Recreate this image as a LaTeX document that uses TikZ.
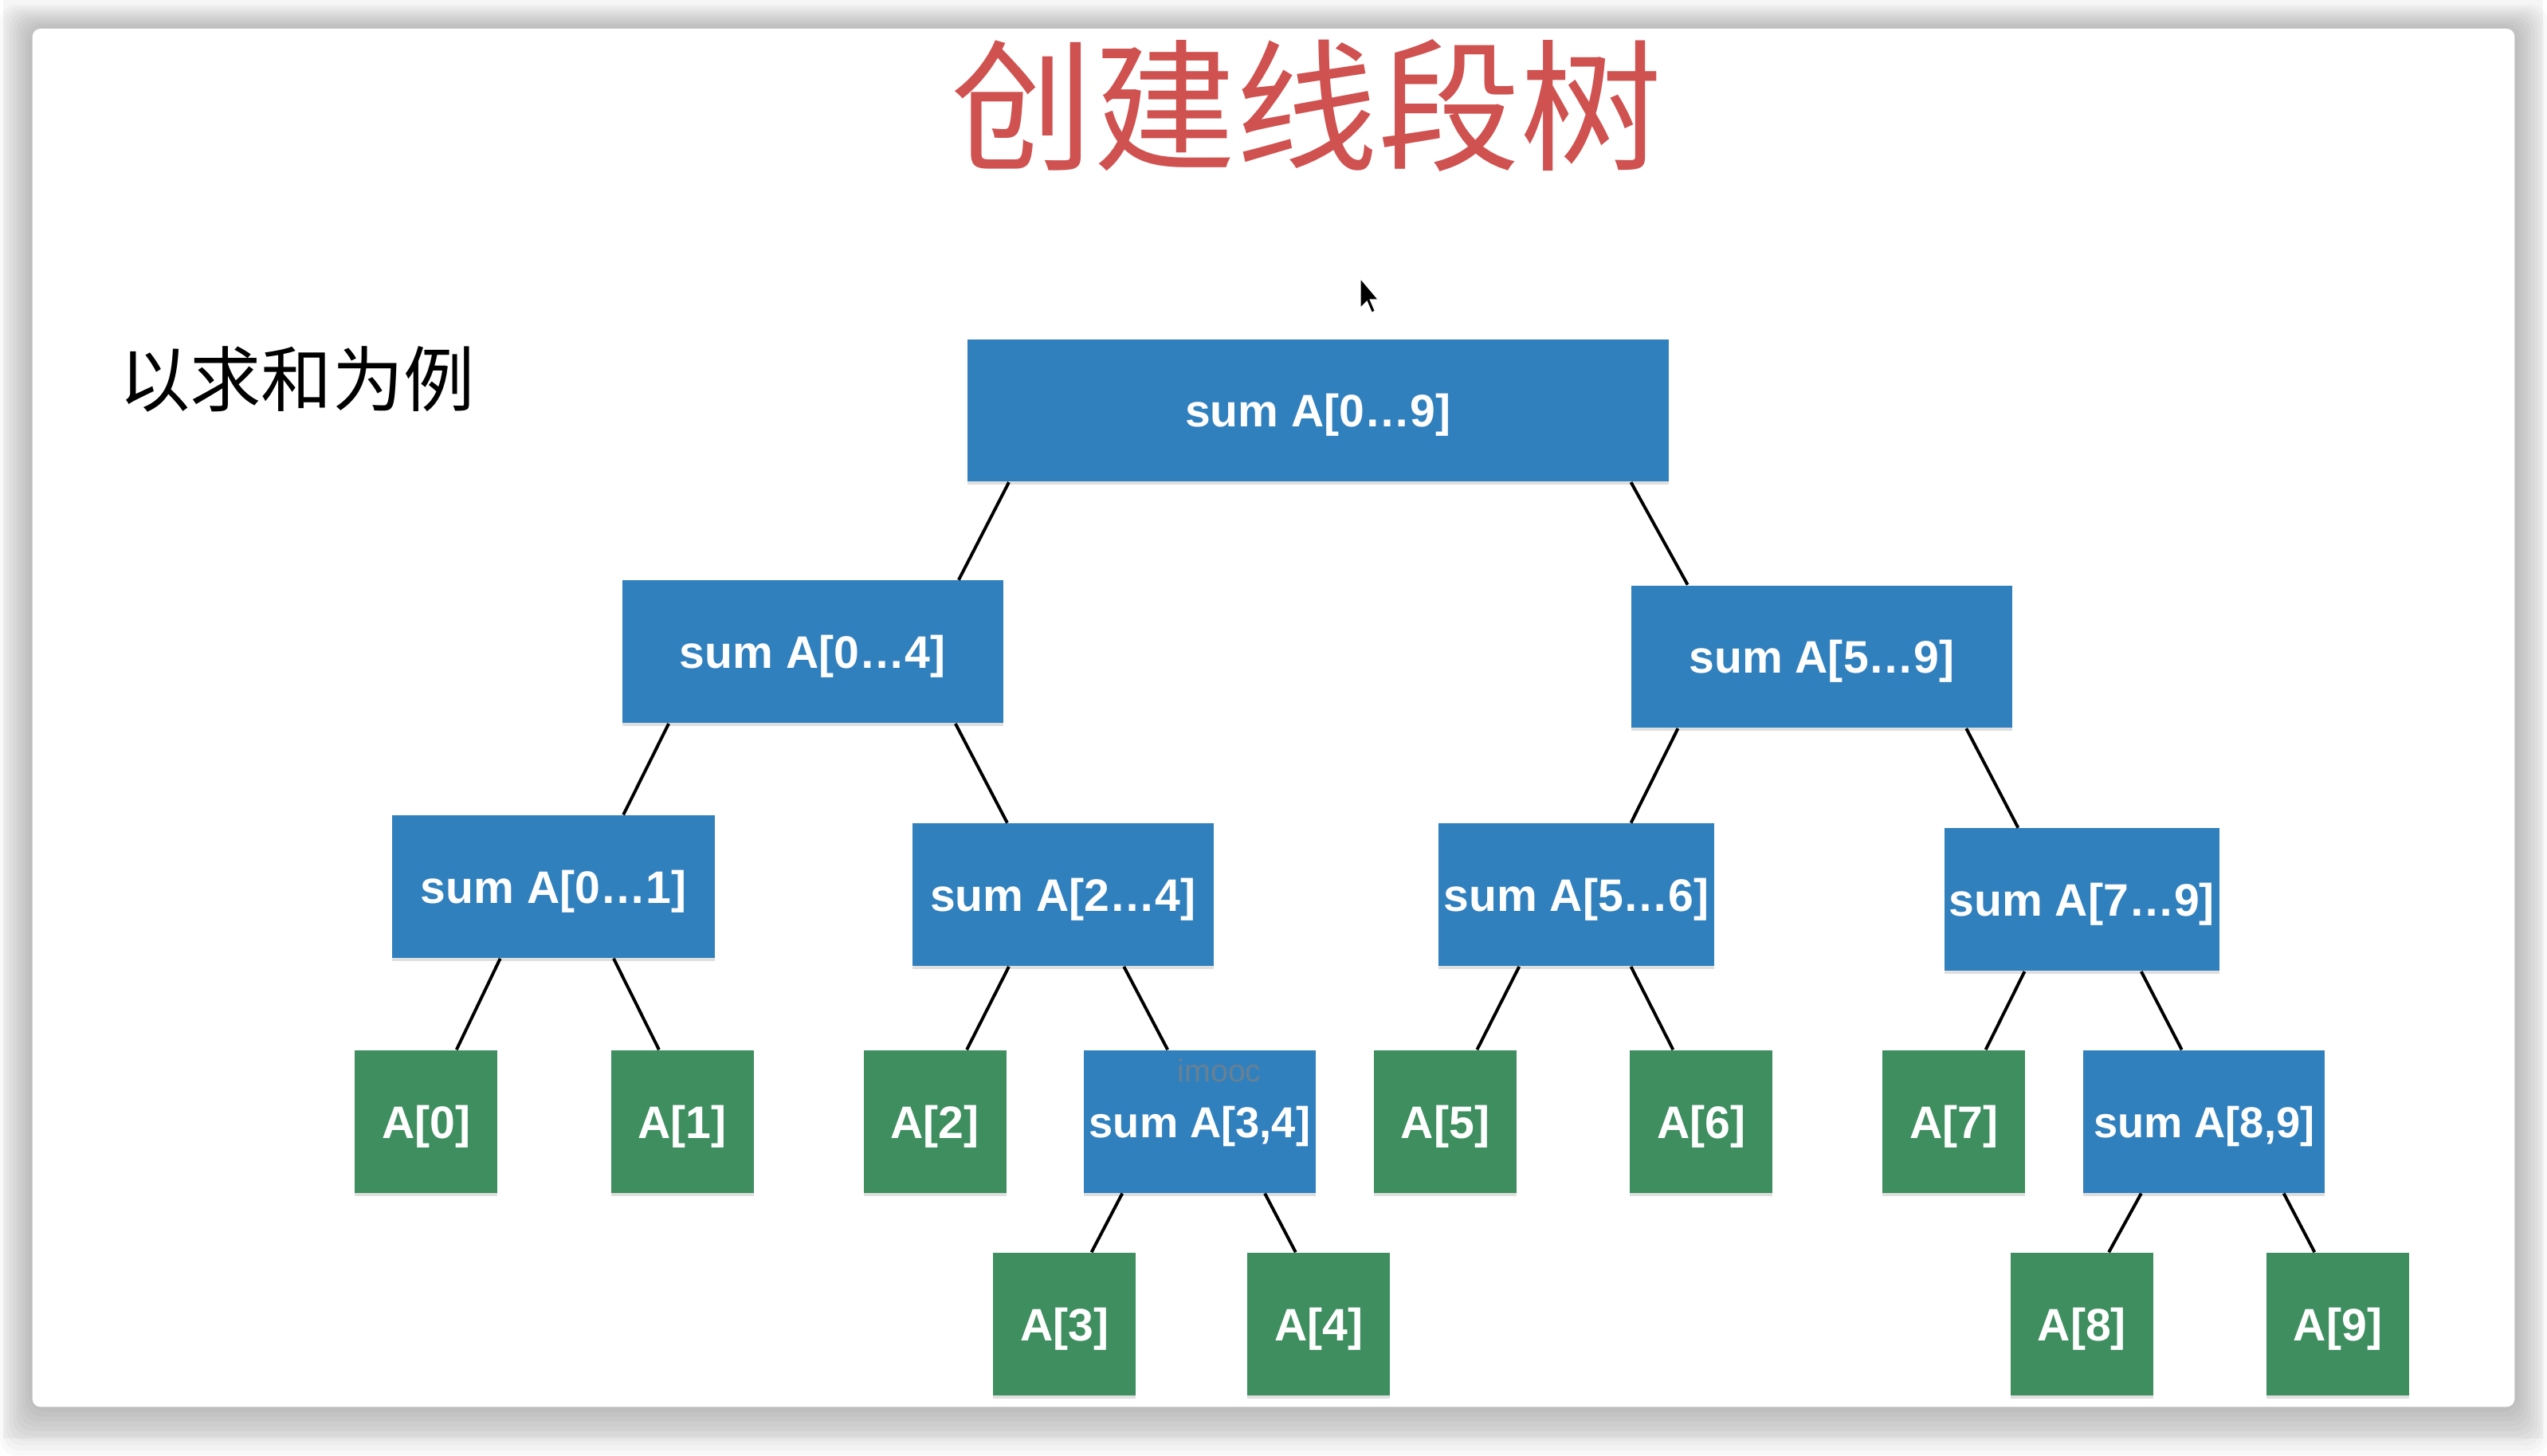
\documentclass[tikz,border=0pt]{standalone}
\usepackage{fontspec}
\setmainfont{Liberation Sans}
\newfontfamily\cjk{Noto Sans CJK SC}
\usetikzlibrary{positioning, shadows}
\definecolor{segblue}{RGB}{49,128,190}
\definecolor{leafgreen}{RGB}{62,142,96}
\definecolor{titlered}{RGB}{207,82,80}
\tikzset{
every node/.style={inner sep=0pt},
box/.style={anchor=north west, minimum height=1.76cm, text depth=0pt, text=white,
  font=\fontsize{16}{19}\selectfont\bfseries,
  drop shadow={shadow xshift=0pt, shadow yshift=-0.04cm, opacity=0.25}},
sumbox/.style={box, fill=segblue},
pairbox/.style={sumbox, font=\fontsize{15.2}{18}\selectfont\bfseries},
leaf/.style={box, fill=leafgreen, minimum width=1.76cm},
link/.style={line width=1.1pt, black},
}
\newcommand{\dd}{…}

\begin{document}
\begin{tikzpicture}
    % page and slide
    \fill[gray!7] (0,0) rectangle (31.36,-17.76);
    \foreach \i in {1,...,10}
        \fill[black, opacity=0.025, rounded corners=0.2cm]
            ({0.364-0.04*\i},{-0.354+0.03*\i}) rectangle ({31.01+0.04*\i},{-17.37-0.06*\i});
    \fill[white, rounded corners=0.1cm] (0.364,-0.354) rectangle (31.01,-17.37);
    \useasboundingbox (0,0) rectangle (31.36,-17.76);

    \node[text=titlered, font=\cjk\fontsize{50}{56}\selectfont] (title) at (16.1,-1.3) {创建线段树};
    \node[font=\cjk\fontsize{25}{30}\selectfont] (note) at (3.63,-4.68) {以求和为例};

    % mouse pointer
    \filldraw[black, draw=white, line width=0.3pt] (16.76,-3.44) -- (16.76,-3.80) -- (16.84,-3.72)
        -- (16.90,-3.86) -- (16.94,-3.84) -- (16.88,-3.70) -- (16.98,-3.70) -- cycle;

    % level 0 and 1
    \node[sumbox, minimum width=8.66cm] (s09) at (11.90,-4.18) {sum A[0\dd9]};
    \node[sumbox, minimum width=4.70cm] (s04) at (7.64,-7.16) {sum A[0\dd4]};
    \node[sumbox, minimum width=4.70cm] (s59) at (20.10,-7.22) {sum A[5\dd9]};
    % level 2
    \node[sumbox, minimum width=3.98cm] (s01) at (4.80,-10.06) {sum A[0\dd1]};
    \node[sumbox, minimum width=3.72cm] (s24) at (11.22,-10.16) {sum A[2\dd4]};
    \node[sumbox, minimum width=3.40cm] (s56) at (17.72,-10.16) {sum A[5\dd6]};
    \node[sumbox, minimum width=3.40cm] (s79) at (23.96,-10.22) {sum A[7\dd9]};
    % level 3
    \node[leaf] (a0) at (4.34,-12.96) {A[0]};
    \node[leaf] (a1) at (7.50,-12.96) {A[1]};
    \node[leaf] (a2) at (10.62,-12.96) {A[2]};
    \node[pairbox, minimum width=2.86cm] (s34) at (13.34,-12.96) {sum A[3,4]};
    \node[leaf] (a5) at (16.92,-12.96) {A[5]};
    \node[leaf] (a6) at (20.08,-12.96) {A[6]};
    \node[leaf] (a7) at (23.20,-12.96) {A[7]};
    \node[pairbox, minimum width=2.98cm] (s89) at (25.68,-12.96) {sum A[8,9]};
    % level 4
    \node[leaf] (a3) at (12.22,-15.46) {A[3]};
    \node[leaf] (a4) at (15.36,-15.46) {A[4]};
    \node[leaf] (a8) at (24.78,-15.46) {A[8]};
    \node[leaf] (a9) at (27.94,-15.46) {A[9]};

    \node[text=gray!70!segblue, font=\fontsize{11}{13}\selectfont] (mark) at (15.02,-13.22) {imooc};

    \draw[link]
    ([xshift=0.52cm]s09.south west) -- ([xshift=4.16cm]s04.north west)
    ([xshift=8.20cm]s09.south west) -- ([xshift=0.70cm]s59.north west)
    ([xshift=0.58cm]s04.south west) -- ([xshift=2.86cm]s01.north west)
    ([xshift=4.12cm]s04.south west) -- ([xshift=1.18cm]s24.north west)
    ([xshift=0.58cm]s59.south west) -- ([xshift=2.38cm]s56.north west)
    ([xshift=4.14cm]s59.south west) -- ([xshift=0.92cm]s79.north west)
    ([xshift=1.34cm]s01.south west) -- ([xshift=1.26cm]a0.north west)
    ([xshift=2.74cm]s01.south west) -- ([xshift=0.60cm]a1.north west)
    ([xshift=1.20cm]s24.south west) -- ([xshift=1.28cm]a2.north west)
    ([xshift=2.62cm]s24.south west) -- ([xshift=1.04cm]s34.north west)
    ([xshift=1.00cm]s56.south west) -- ([xshift=1.28cm]a5.north west)
    ([xshift=2.38cm]s56.south west) -- ([xshift=0.54cm]a6.north west)
    ([xshift=1.00cm]s79.south west) -- ([xshift=1.28cm]a7.north west)
    ([xshift=2.44cm]s79.south west) -- ([xshift=1.22cm]s89.north west)
    ([xshift=0.48cm]s34.south west) -- ([xshift=1.22cm]a3.north west)
    ([xshift=2.24cm]s34.south west) -- ([xshift=0.60cm]a4.north west)
    ([xshift=0.72cm]s89.south west) -- ([xshift=1.22cm]a8.north west)
    ([xshift=2.48cm]s89.south west) -- ([xshift=0.60cm]a9.north west)
    ;
\end{tikzpicture}
\end{document}
